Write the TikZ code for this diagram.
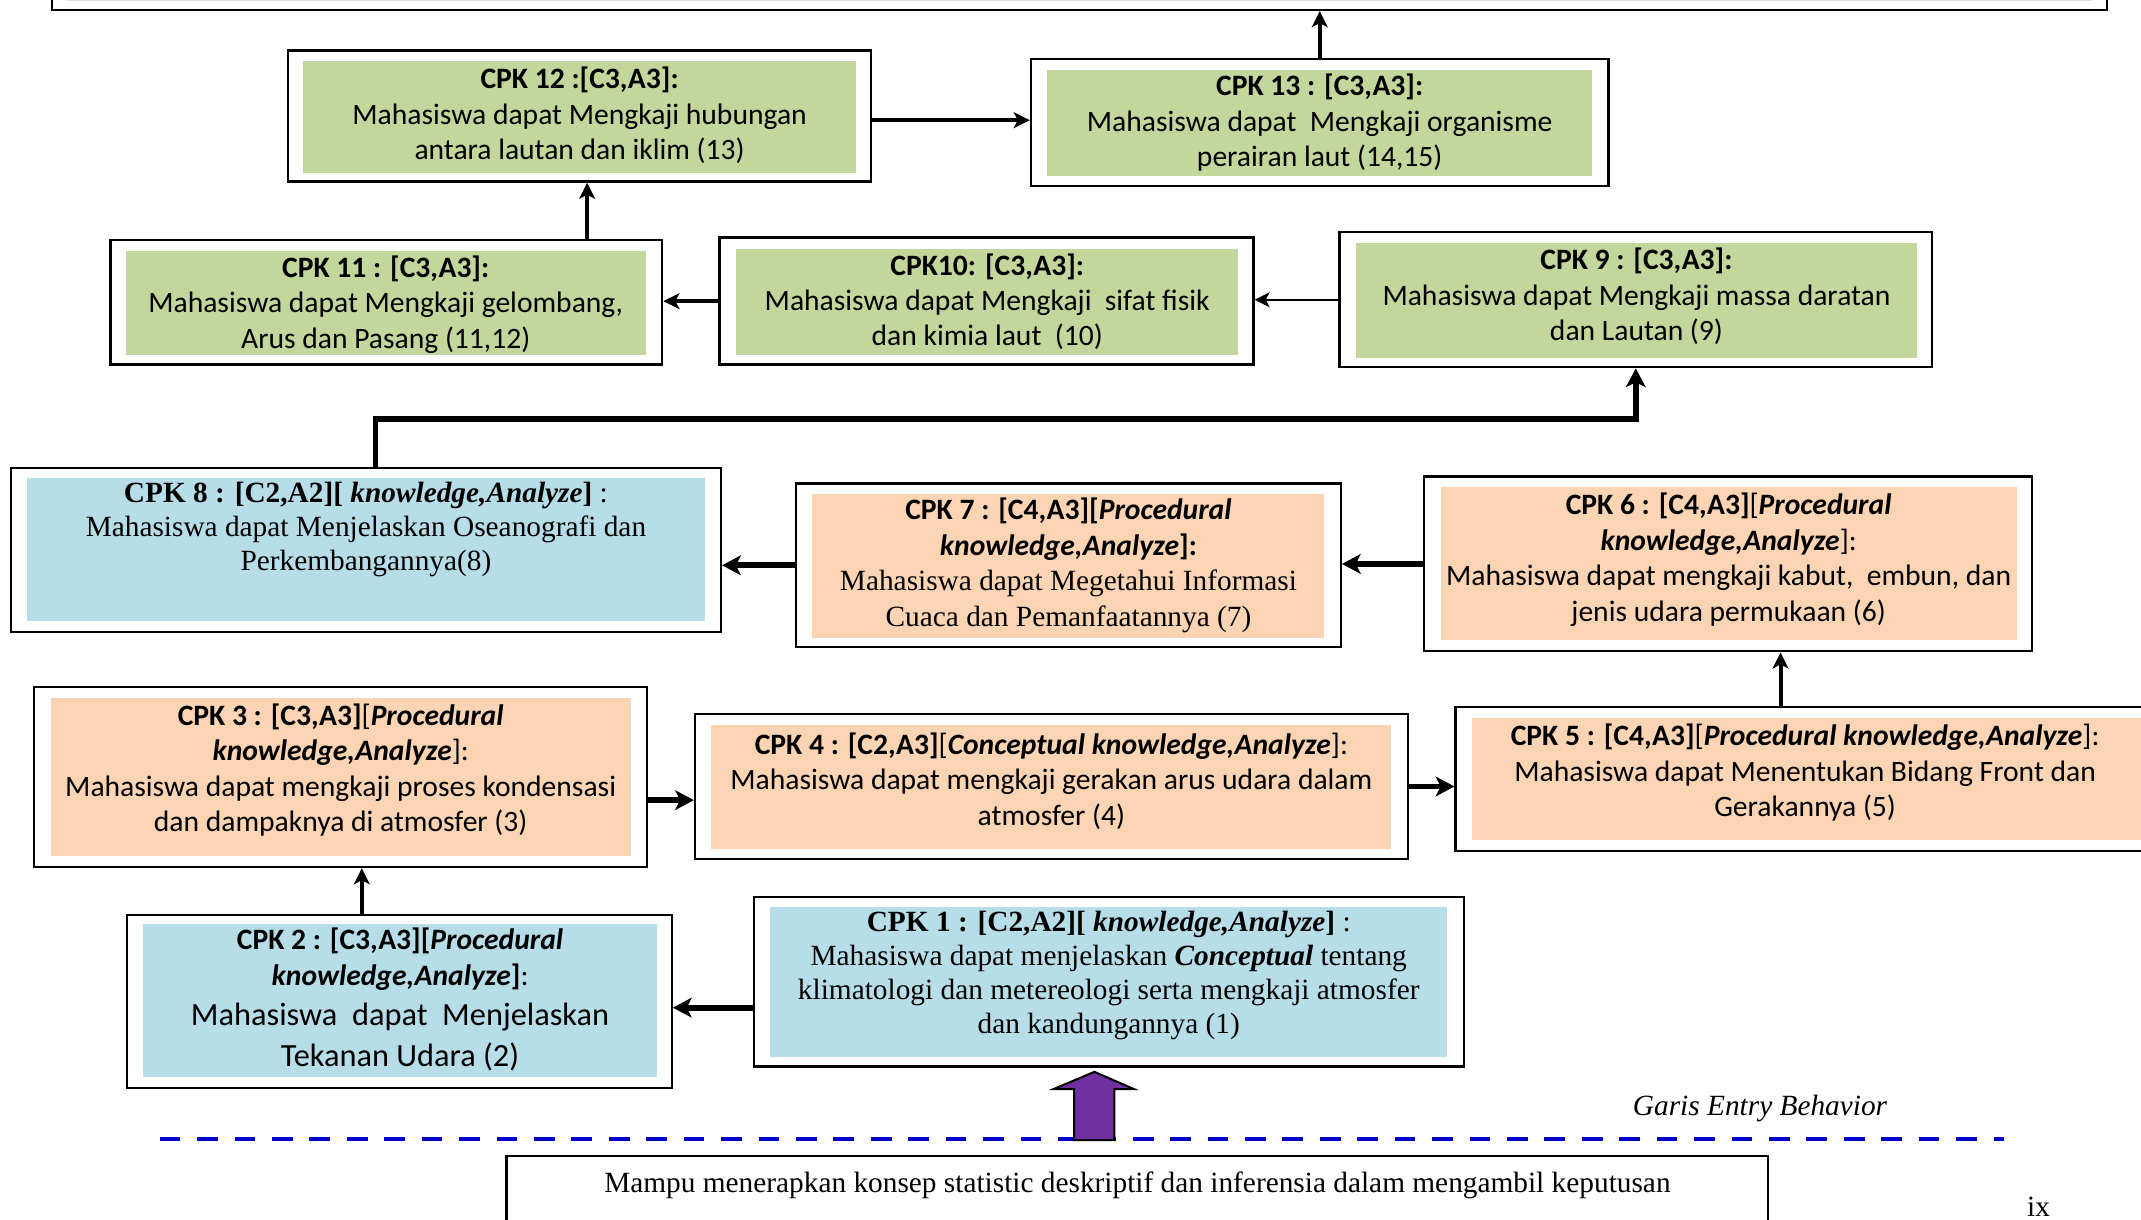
\documentclass[tikz,border=0pt]{standalone}
\usepackage{fontspec}
\setmainfont{Carlito}
\newfontfamily\tnr{Liberation Serif}
\usetikzlibrary{arrows.meta,fit}
\definecolor{cgreen}{HTML}{C3D69B}
\definecolor{cpeach}{HTML}{FBD4B4}
\definecolor{cblue}{HTML}{B7DDE8}
\definecolor{cpurple}{HTML}{7030A0}
\definecolor{clav}{HTML}{E5E0EC}
\definecolor{cdash}{HTML}{0000CC}
\newcommand{\tmsfont}{\tnr\fontsize{11.6}{13.5}\selectfont}
\tikzset{
  outerbox/.style={draw=black, line width=0.9pt, fill=white, inner sep=0pt},
  inbox/.style={draw=none, inner sep=0pt},
  cal/.style={font=\fontsize{11.7}{14}\selectfont, align=center, inner sep=0pt},
  tms/.style={font=\tmsfont, align=center, inner sep=0pt},
  thickarr/.style={line width=2.3pt, -{Stealth[length=7.5pt, width=8pt, inset=2pt, line width=0pt]}},
  medarr/.style={line width=1.6pt, -{Stealth[length=6.5pt, width=6.5pt, inset=1.8pt, line width=0pt]}},
  thinarr/.style={line width=0.9pt, -{Stealth[length=6pt, width=6pt, inset=1.6pt, line width=0pt]}},
}
\begin{document}
\begin{tikzpicture}[x=0.54pt, y=-0.54pt]
\useasboundingbox (0,0) rectangle (1568,893);

% top box
\node[outerbox, fit={(38,-40) (1543,7.3)}] (top) {};
\node[inbox, fill=clav, fit={(49,-40) (1532,1)}] (topi) {};

% boxes
\node[outerbox, fit={(211,37) (638,133)}] (c12) {};
\node[inbox, fill=cgreen, fit={(222,45) (627,127)}] (c12i) {};
\node[outerbox, fit={(755,43) (1178,136)}] (c13) {};
\node[inbox, fill=cgreen, fit={(767,51) (1166,129)}] (c13i) {};
\node[outerbox, fit={(81,176) (485,267)}] (c11) {};
\node[inbox, fill=cgreen, fit={(92,184) (473,260)}] (c11i) {};
\node[outerbox, fit={(527,174) (918,267)}] (c10) {};
\node[inbox, fill=cgreen, fit={(539,182) (907,260)}] (c10i) {};
\node[outerbox, fit={(981,170) (1415,269)}] (c9) {};
\node[inbox, fill=cgreen, fit={(993,178) (1404,262)}] (c9i) {};
\node[outerbox, fit={(8,343) (528,463)}] (c8) {};
\node[inbox, fill=cblue, fit={(20,350) (516,455)}] (c8i) {};
\node[outerbox, fit={(583,354) (982,474)}] (c7) {};
\node[inbox, fill=cpeach, fit={(595,362) (970,467)}] (c7i) {};
\node[outerbox, fit={(1043,349) (1488,477)}] (c6) {};
\node[inbox, fill=cpeach, fit={(1055,357) (1477,469)}] (c6i) {};
\node[outerbox, fit={(25,503) (474,635)}] (c3) {};
\node[inbox, fill=cpeach, fit={(37,511) (462,627)}] (c3i) {};
\node[outerbox, fit={(509,523) (1031,629)}] (c4) {};
\node[inbox, fill=cpeach, fit={(521,531) (1019,622)}] (c4i) {};
\node[outerbox, fit={(1066,518) (1580,623)}] (c5) {};
\node[inbox, fill=cpeach, fit={(1078,526) (1575,615)}] (c5i) {};
\node[outerbox, fit={(93,670) (492,797)}] (c2) {};
\node[inbox, fill=cblue, fit={(105,677) (481,789)}] (c2i) {};
\node[outerbox, fit={(552,657) (1072,781)}] (c1) {};
\node[inbox, fill=cblue, fit={(564,664) (1060,774)}] (c1i) {};
\node[outerbox, fit={(371,846.7) (1295,930)}] (bot) {};

% texts
\node[cal] (t12) at (424.5,84.5) {\textbf{CPK 12 :[C3,A3]:}\\Mahasiswa dapat Mengkaji hubungan\\antara lautan dan iklim (13)};
\node[cal] (t13) at (966.5,90) {\textbf{CPK 13 : [C3,A3]:}\\Mahasiswa dapat\ \ Mengkaji organisme\\perairan laut (14,15)};
\node[cal] (t11) at (282.5,223) {\textbf{CPK 11 : [C3,A3]:}\\Mahasiswa dapat Mengkaji gelombang,\\Arus dan Pasang (11,12)};
\node[cal] (t10) at (723,221) {\textbf{CPK10: [C3,A3]:}\\Mahasiswa dapat Mengkaji\ \ sifat fisik\\dan kimia laut\ \ (10)};
\node[cal] (t9) at (1198.5,217) {\textbf{CPK 9 : [C3,A3]:}\\Mahasiswa dapat Mengkaji massa daratan\\dan Lautan (9)};
\node[tms] (t8) at (268,388) {\textbf{CPK 8 : [C2,A2][ \textit{knowledge,Analyze}]} :\\Mahasiswa dapat Menjelaskan Oseanografi dan\\Perkembangannya(8)};
\node[cal] (t7) at (782.5,414) {\textbf{CPK 7 : [C4,A3][\textit{Procedural}}\\\textbf{\textit{knowledge,Analyze}]:}\\{\tmsfont Mahasiswa dapat Megetahui Informasi}\\{\tmsfont Cuaca dan Pemanfaatannya (7)}};
\node[cal] (t6) at (1266,410) {\textbf{CPK 6 : [C4,A3]}[\textbf{\textit{Procedural}}\\\textbf{\textit{knowledge,Analyze}}]:\\Mahasiswa dapat mengkaji kabut,\ \ embun, dan\\jenis udara permukaan (6)};
\node[cal] (t3) at (249.5,564) {\textbf{CPK 3 : [C3,A3]}[\textbf{\textit{Procedural}}\\\textbf{\textit{knowledge,Analyze}}]:\\Mahasiswa dapat mengkaji proses kondensasi\\dan dampaknya di atmosfer (3)};
\node[cal] (t4) at (770,572) {\textbf{CPK 4 : [C2,A3]}[\textbf{\textit{Conceptual knowledge,Analyze}}]:\\Mahasiswa dapat mengkaji gerakan arus udara dalam\\atmosfer (4)};
\node[cal] (t5) at (1322,566) {\textbf{CPK 5 : [C4,A3]}[\textbf{\textit{Procedural knowledge,Analyze}}]:\\Mahasiswa dapat Menentukan Bidang Front dan\\Gerakannya (5)};
\node[cal] (t2) at (293,732) {\textbf{CPK 2 : [C3,A3][\textit{Procedural}}\\\textbf{\textit{knowledge,Analyze}]}:\\[2pt]{\fontsize{12.8}{14}\selectfont Mahasiswa\ \ dapat\ \ Menjelaskan}\\[2pt]{\fontsize{12.8}{14}\selectfont Tekanan Udara (2)}};
\node[tms] (t1) at (812,714.5) {\textbf{CPK 1 : [C2,A2][ \textit{knowledge,Analyze}]} :\\Mahasiswa dapat menjelaskan \textbf{\textit{Conceptual}} tentang\\klimatologi dan metereologi serta mengkaji atmosfer\\dan kandungannya (1)};
\node[tms] (tbot) at (833,868) {Mampu menerapkan konsep statistic deskriptif dan inferensia dalam mengambil keputusan};
\node[tms, font=\tmsfont\itshape] (garis) at (1289,812) {Garis Entry Behavior};
\node[tms, anchor=base] (pg) at (1493,891) {ix};

% helper coordinates
\coordinate (bend) at (275,307);
\coordinate (x56) at (1304,0);
\coordinate (y34) at (0,586);
\coordinate (x23) at (265,0);
\coordinate (y12) at (0,738);
\coordinate (x1112) at (430,0);
\coordinate (y1213) at (0,88);

% connectors
\draw[medarr] (c12.east |- y1213) -- (c13.west |- y1213);
\draw[medarr] (c13.north) -- (c13.north |- top.south);
\draw[medarr] (c11.north -| x1112) -- (c12.south -| x1112);
\draw[medarr] (c10.west) -- (c10.west -| c11.east);
\draw[thinarr] (c9.west) -- (c9.west -| c10.east);
\draw[thickarr] (c8.north -| bend) -- (bend) -| (c9.south);
\draw[thickarr] (c7.west) -- (c7.west -| c8.east);
\draw[thickarr] (c6.west) -- (c6.west -| c7.east);
\draw[medarr] (c5.north -| x56) -- (c6.south -| x56);
\draw[thickarr] (c4.east) -- (c4.east -| c5.west);
\draw[thickarr] (c3.east |- y34) -- (c4.west |- y34);
\draw[medarr] (c2.north -| x23) -- (c3.south -| x23);
\draw[thickarr] (c1.west |- y12) -- (c2.east |- y12);

% entry behaviour line
\coordinate (dl1) at (117,834.4);
\coordinate (dl2) at (1468,834.4);
\draw[cdash, line width=1.6pt, dash pattern=on 8.2pt off 6.6pt] (dl1) -- (dl2);
\draw[fill=cpurple, line width=0.8pt, line join=miter] (786.6,835) -- (786.6,797.7) -- (771.4,797.7) -- (801.5,785) -- (830.7,797.7) -- (816.1,797.7) -- (816.1,835) -- cycle;
\end{tikzpicture}
\end{document}
